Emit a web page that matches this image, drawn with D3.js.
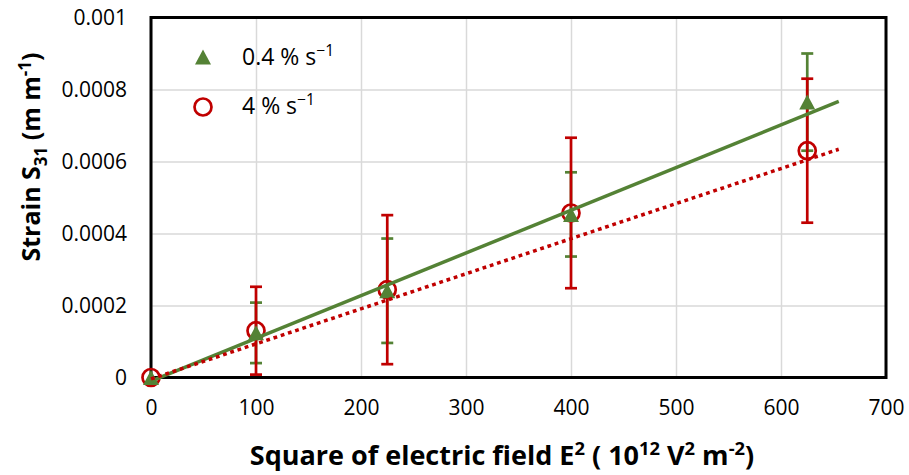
<!DOCTYPE html>
<html>
<head>
<meta charset="utf-8">
<script src="https://cdn.jsdelivr.net/npm/d3@7"></script>
<style>
  body { margin: 0; background: #fff; }
  svg text { font-family: "Open Sans", sans-serif; fill: #000; }
</style>
</head>
<body>
<div id="chart"></div>
<script>
// E^2 values (10^12 V^2 m^-2)
const fieldSq = [0, 100, 225, 400, 625];

// 0.4 %/s series
const slowStrain = [0, 0.000124, 0.000241, 0.000453, 0.000765];
const slowErr = [0, 0.000084, 0.000145, 0.000117, 0.000135];

// 4 %/s series
const fastStrain = [0, 0.000130, 0.000244, 0.000457, 0.000630];
const fastErr = [0, 0.000122, 0.000207, 0.000209, 0.000200];

// linear trendlines, end points
const trendX = [0, 655];
const slowTrend = [-0.00001, 0.000767];
const fastTrend = [-0.000004, 0.000634];

const xTicks = [0, 100, 200, 300, 400, 500, 600, 700];
const yTicks = [0, 0.0002, 0.0004, 0.0006, 0.0008, 0.001];
const yTickLabels = ["0", "0.0002", "0.0004", "0.0006", "0.0008", "0.001"];

const W = 909, H = 475;
const plot = { left: 151, right: 886, top: 17.5, bottom: 377.5 };
const green = "#548235", red = "#C00000";

const svg = d3.select("#chart").append("svg")
    .attr("width", W).attr("height", H);

const x = d3.scaleLinear().domain([0, 700]).range([plot.left, plot.right]);
const y = d3.scaleLinear().domain([0, 0.001]).range([plot.bottom, plot.top]);

// gridlines
svg.append("g")
    .attr("transform", `translate(0,${plot.bottom})`)
    .call(d3.axisBottom(x).tickValues(xTicks).tickSize(-(plot.bottom - plot.top)).tickFormat(""))
    .call(g => g.select(".domain").remove())
    .call(g => g.selectAll("line").attr("stroke", "#d9d9d9").attr("stroke-width", 1.5));
svg.append("g")
    .attr("transform", `translate(${plot.left},0)`)
    .call(d3.axisLeft(y).tickValues(yTicks).tickSize(-(plot.right - plot.left)).tickFormat(""))
    .call(g => g.select(".domain").remove())
    .call(g => g.selectAll("line").attr("stroke", "#d9d9d9").attr("stroke-width", 1.5));

// tick labels
svg.append("g")
    .attr("transform", `translate(0,${plot.bottom})`)
    .call(d3.axisBottom(x).tickValues(xTicks).tickSize(0).tickPadding(23).tickFormat(d3.format("d")))
    .call(g => g.select(".domain").remove())
    .call(g => g.selectAll("text").attr("font-size", 21).attr("font-family", "Open Sans").attr("fill", "#000"));
svg.append("g")
    .attr("transform", `translate(${plot.left},0)`)
    .call(d3.axisLeft(y).tickValues(yTicks).tickSize(0).tickPadding(24).tickFormat((d, i) => yTickLabels[i]))
    .call(g => g.select(".domain").remove())
    .call(g => g.selectAll("text").attr("font-size", 21).attr("font-family", "Open Sans").attr("fill", "#000"));

// plot frame
svg.append("rect")
    .attr("x", plot.left).attr("y", plot.top)
    .attr("width", plot.right - plot.left).attr("height", plot.bottom - plot.top)
    .attr("fill", "none").attr("stroke", "#000").attr("stroke-width", 3);

// error bars
function errorBars(vals, errs, color) {
    const g = svg.append("g").attr("stroke", color).attr("stroke-width", 2.7).attr("fill", "none");
    fieldSq.forEach((xv, i) => {
        if (!errs[i]) return;
        const lo = y(vals[i] - errs[i]), hi = y(vals[i] + errs[i]), cx = x(xv);
        g.append("line").attr("x1", cx).attr("x2", cx).attr("y1", lo).attr("y2", hi);
        g.append("line").attr("x1", cx - 6).attr("x2", cx + 6).attr("y1", lo).attr("y2", lo);
        g.append("line").attr("x1", cx - 6).attr("x2", cx + 6).attr("y1", hi).attr("y2", hi);
    });
}
errorBars(slowStrain, slowErr, green);
errorBars(fastStrain, fastErr, red);

const triPath = "M0,-7.5L8,7.5L-8,7.5Z";

// markers
svg.append("g").selectAll("circle")
    .data(fieldSq)
    .join("circle")
    .attr("cx", d => x(d))
    .attr("cy", (d, i) => y(fastStrain[i]))
    .attr("r", 8.5)
    .attr("fill", "none").attr("stroke", red).attr("stroke-width", 2.7);

svg.append("g").selectAll("path")
    .data(fieldSq)
    .join("path")
    .attr("d", triPath)
    .attr("transform", (d, i) => `translate(${x(d)},${y(slowStrain[i])})`)
    .attr("fill", green);

// trendlines
const line = d3.line().x(d => x(d[0])).y(d => y(d[1]));
svg.append("path")
    .datum(d3.zip(trendX, slowTrend))
    .attr("d", line)
    .attr("fill", "none").attr("stroke", green).attr("stroke-width", 3.5);
svg.append("path")
    .datum(d3.zip(trendX, fastTrend))
    .attr("d", line)
    .attr("fill", "none").attr("stroke", red).attr("stroke-width", 3.5)
    .attr("stroke-dasharray", "3.8,3.8");

// rich text helper: segments with optional sup / sub, offsets given in px
function richText(el, parts, fs) {
    let shift = 0;
    parts.forEach(p => {
        const off = p.sup ? -0.38 * fs : p.sub ? 0.28 * fs : 0;
        const t = el.append("tspan").text(p.t);
        if (off !== shift) t.attr("dy", off - shift);
        if (p.sup || p.sub) t.attr("font-size", 0.68 * fs);
        shift = off;
    });
}

// legend
svg.append("path").attr("d", triPath).attr("transform", "translate(203,57)").attr("fill", green);
svg.append("circle").attr("cx", 203).attr("cy", 107).attr("r", 8.5)
    .attr("fill", "none").attr("stroke", red).attr("stroke-width", 2.7);
richText(svg.append("text").attr("x", 242).attr("y", 65).attr("font-size", 23),
    [{ t: "0.4 % s" }, { t: "\u22121", sup: true }], 23);
richText(svg.append("text").attr("x", 242).attr("y", 114).attr("font-size", 23),
    [{ t: "4 % s" }, { t: "\u22121", sup: true }], 23);

// axis titles
richText(svg.append("text")
    .attr("x", 502).attr("y", 465)
    .attr("text-anchor", "middle")
    .attr("font-size", 27).attr("font-weight", "bold"),
    [{ t: "Square of electric field E" }, { t: "2", sup: true }, { t: " ( 10" }, { t: "12", sup: true },
     { t: " V" }, { t: "2", sup: true }, { t: " m" }, { t: "-2", sup: true }, { t: ")" }], 27);

richText(svg.append("text")
    .attr("transform", "translate(40,157) rotate(-90)")
    .attr("text-anchor", "middle")
    .attr("font-size", 25).attr("font-weight", "bold"),
    [{ t: "Strain S" }, { t: "31", sub: true }, { t: " (m m" }, { t: "-1", sup: true }, { t: ")" }], 25);
</script>
</body>
</html>
